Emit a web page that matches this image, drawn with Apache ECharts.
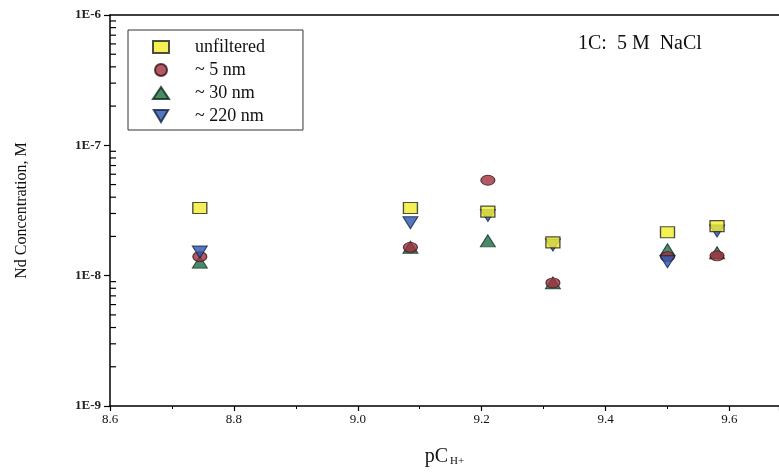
<!DOCTYPE html>
<html>
<head>
<meta charset="utf-8">
<script src="https://cdn.jsdelivr.net/npm/echarts@6/dist/echarts.min.js"></script>
<style>html,body{margin:0;padding:0;background:#fff}#c{width:779px;height:476px}</style>
</head>
<body>
<div id="c"></div>
<script>
// pCH+ positions of the six samples
var pch = [8.745, 9.085, 9.21, 9.315, 9.5, 9.58];
// Nd concentration (M)
var unfiltered = [3.3e-8, 3.3e-8, 3.1e-8, 1.8e-8, 2.15e-8, 2.4e-8];
var nm5 = [1.4e-8, 1.65e-8, 5.4e-8, 8.8e-9, 1.4e-8, 1.42e-8];
var nm30 = [1.27e-8, 1.65e-8, 1.85e-8, 8.8e-9, 1.58e-8, 1.5e-8];
var nm220 = [1.52e-8, 2.55e-8, 2.9e-8, 1.72e-8, 1.28e-8, 2.2e-8];
var seriesNames = ['unfiltered', '~ 5 nm', '~ 30 nm', '~ 220 nm'];
// log minor ticks
var minorMult = [2, 3, 4, 5, 6, 7, 8, 9];
var decades = [1e-9, 1e-8, 1e-7];
var annotation = '1C:  5 M  NaCl';

function pairs(vals) { return vals.map(function (v, i) { return [pch[i], v]; }); }
var minorVals = [];
decades.forEach(function (d) { minorMult.forEach(function (m) { minorVals.push([8.6, m * d]); }); });

var serif = 'Liberation Serif';
var downTri = 'path://M0,0 L12,0 L6,10 Z';
var chart = echarts.init(document.getElementById('c'));
chart.setOption({
  animation: false,
  backgroundColor: '#fff',
  grid: { left: 110, right: 0, top: 15, bottom: 70, outerBoundsMode: 'none', containLabel: false },
  legend: {
    data: [
      { name: seriesNames[0] },
      { name: seriesNames[1] },
      { name: seriesNames[2] },
      { name: seriesNames[3], icon: downTri }
    ],
    orient: 'vertical',
    left: 128, top: 30,
    borderColor: '#333', borderWidth: 1,
    padding: [8, 38, 5, 24],
    itemWidth: 16, itemHeight: 12, itemGap: 5,
    textStyle: { fontFamily: serif, fontSize: 18, color: '#111', padding: [0, 0, 0, 21] }
  },
  graphic: [{
    type: 'text', left: 578, top: 34,
    style: { text: annotation, font: '20px "Liberation Serif"', fill: '#111' }
  }],
  xAxis: [{
    type: 'value', min: 8.6, max: 9.68, interval: 0.2,
    name: 'pC{sub|H+}', nameLocation: 'middle', nameGap: 40,
    nameTextStyle: { fontFamily: serif, fontSize: 20, color: '#111',
      rich: { sub: { fontFamily: serif, fontSize: 11, color: '#111', padding: [10, 0, 0, 2] } } },
    axisLine: { lineStyle: { color: '#000', width: 1.5 } },
    axisTick: { length: 5, lineStyle: { color: '#000', width: 1.2 } },
    minorTick: { show: true, splitNumber: 2, length: 3, lineStyle: { color: '#000' } },
    splitLine: { show: false },
    axisLabel: { fontFamily: serif, fontSize: 13, color: '#111', margin: 7, showMaxLabel: false,
      formatter: function (v) { return v.toFixed(1); } }
  }, {
    type: 'value', position: 'top', min: 8.6, max: 9.68,
    axisLine: { show: true, lineStyle: { color: '#000', width: 1.5 } },
    axisTick: { show: false }, axisLabel: { show: false }, splitLine: { show: false }
  }],
  yAxis: {
    type: 'log', min: 1e-9, max: 1e-6, logBase: 10,
    name: 'Nd Concentration, M', nameLocation: 'middle', nameGap: 80,
    nameTextStyle: { fontFamily: serif, fontSize: 16, color: '#111' },
    axisLine: { show: true, lineStyle: { color: '#000', width: 1.5 } },
    axisTick: { length: 6, lineStyle: { color: '#000', width: 1.2 } },
    splitLine: { show: false },
    axisLabel: { fontFamily: serif, fontSize: 13, fontWeight: 'bold', color: '#222', margin: 9,
      formatter: function (v) { return '1E' + Math.round(Math.log10(v)); } }
  },
  series: [
    {
      type: 'custom', silent: true, data: minorVals, clip: false, z: 1,
      renderItem: function (params, api) {
        var p = api.coord([api.value(0), api.value(1)]);
        return { type: 'line', shape: { x1: p[0], y1: p[1], x2: p[0] + 6, y2: p[1] },
          style: { stroke: '#000', lineWidth: 1.2 } };
      }
    },
    { name: '~ 30 nm', type: 'scatter', data: pairs(nm30), symbol: 'triangle', symbolSize: [15, 12], z: 3,
      itemStyle: { color: '#1d6b45', borderColor: '#0a2a18', borderWidth: 1 } },
    { name: '~ 5 nm', type: 'scatter', data: pairs(nm5), symbol: 'circle', symbolSize: [14, 10], z: 4,
      itemStyle: { color: '#a0303f', borderColor: '#3a1015', borderWidth: 1 } },
    { name: '~ 220 nm', type: 'scatter', data: pairs(nm220), symbol: 'triangle', symbolRotate: 180, symbolSize: [15, 12], z: 5,
      itemStyle: { color: '#2a55b0', borderColor: '#0f2040', borderWidth: 1 } },
    { name: 'unfiltered', type: 'scatter', data: pairs(unfiltered), symbol: 'rect', symbolSize: [14, 11], z: 6,
      itemStyle: { color: '#f2ee2a', borderColor: '#222', borderWidth: 1.2 } }
  ]
});
</script>
</body>
</html>
